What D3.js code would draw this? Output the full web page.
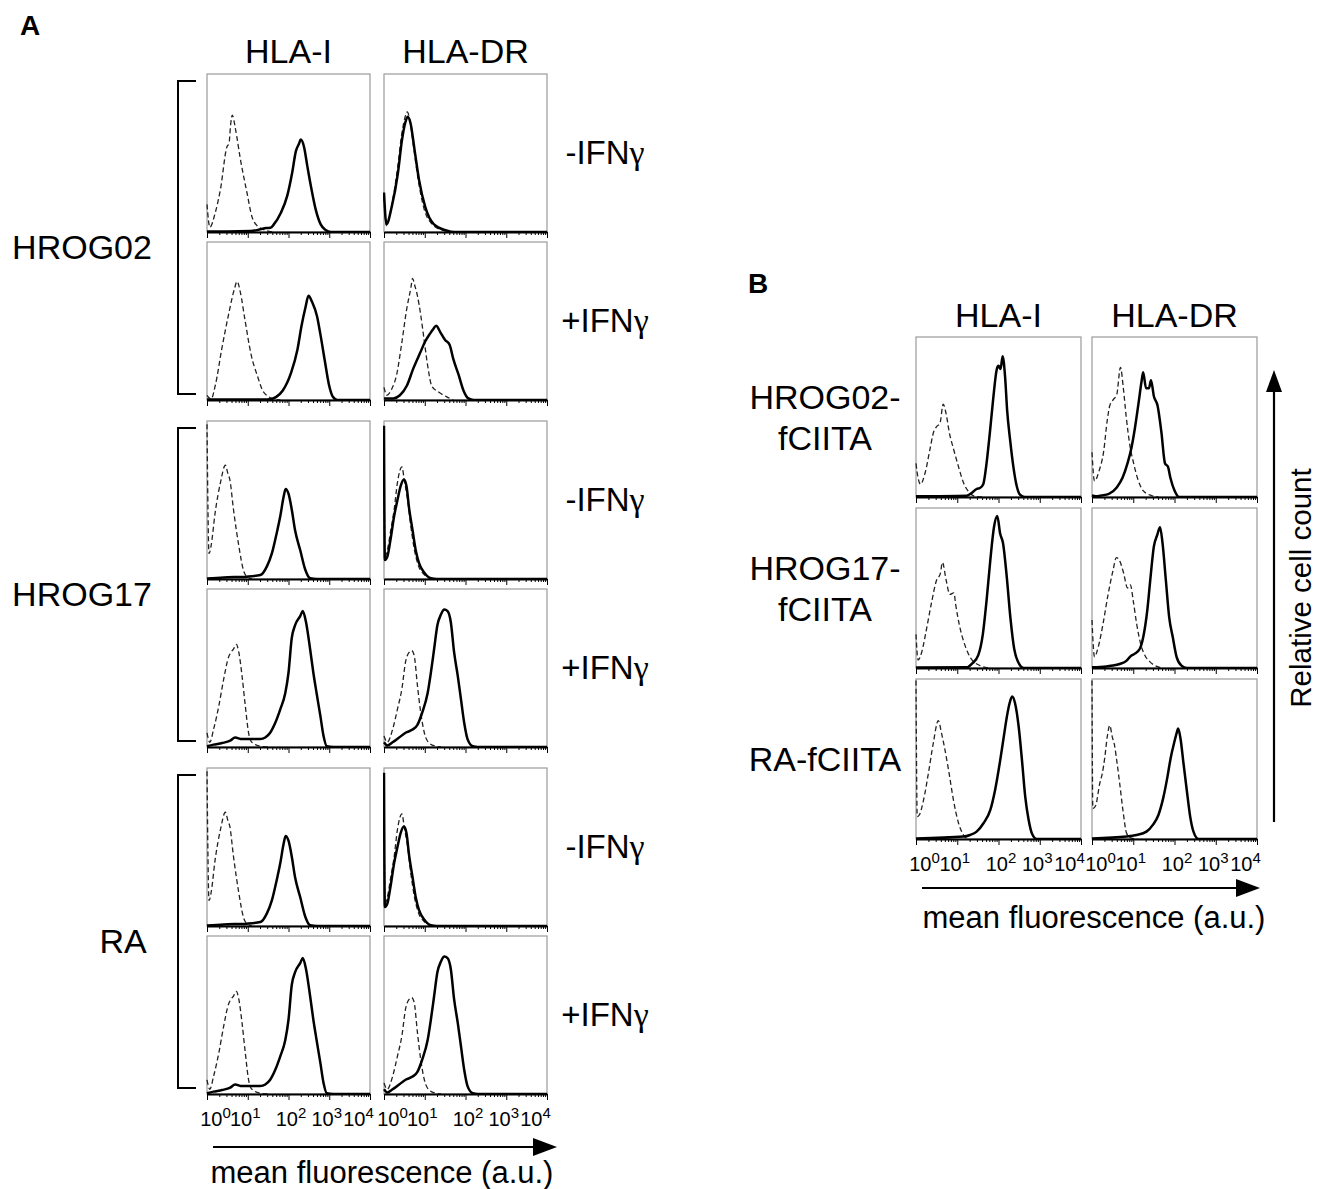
<!DOCTYPE html>
<html>
<head>
<meta charset="utf-8">
<script src="https://cdn.jsdelivr.net/npm/d3@7"></script>
<style>
  body { margin: 0; background: #fff; }
  svg { display: block; font-family: "Liberation Sans", Arial, Helvetica, sans-serif; }
</style>
</head>
<body>
<svg id="fig" width="1319" height="1189"></svg>
<script>
// ---- labels ----
const markers = ["HLA-I", "HLA-DR"];
const groupsA = ["HROG02", "HROG17", "RA"];
const treatments = ["-IFN", "+IFN"];   // followed by a gamma
const rowsB = [["HROG02-", "fCIITA"], ["HROG17-", "fCIITA"], ["RA-fCIITA"]];
const decades = [0, 1, 2, 3, 4];
const xTitle = "mean fluorescence (a.u.)";
const yTitle = "Relative cell count";

// ---- histograms: [log10 fluorescence, % of panel height] ----
// panel A, HROG02
const hrog02MinusHlaICtrl = [[0,17.5],[0.07,3],[0.2,12],[0.33,27],[0.49,54],[0.54,56],[0.58,68],[0.62,74],[0.7,65],[0.82,46],[0.98,25],[1.1,10],[1.23,4],[1.45,1],[1.6,0]];
const hrog02MinusHlaI = [[0,0.3],[0.5,0.3],[1.07,0.6],[1.31,1.7],[1.45,2.5],[1.56,2.7],[1.64,4.8],[1.81,12],[1.97,23],[2.09,37.5],[2.18,51],[2.26,56],[2.3,58.5],[2.38,54],[2.46,42],[2.55,29],[2.67,14],[2.79,4.8],[2.91,1.3],[3.04,0],[4,0]];
const hrog02MinusHlaDRCtrl = [[0,22],[0.06,4],[0.19,17],[0.33,40],[0.43,61],[0.51,72],[0.57,76],[0.64,70],[0.73,53],[0.84,33],[0.98,15],[1.18,5],[1.45,1],[1.65,0]];
const hrog02MinusHlaDR = [[0,25],[0.06,5],[0.19,16],[0.34,37],[0.44,58],[0.52,69],[0.58,73],[0.65,69],[0.75,52],[0.86,33],[1.01,16],[1.22,5],[1.53,1],[1.73,0],[4,0]];
const hrog02PlusHlaICtrl = [[0,3],[0.1,0.6],[0.21,10],[0.36,32],[0.52,53],[0.67,70],[0.74,75],[0.82,68],[0.93,51],[1.08,29],[1.24,15],[1.39,5],[1.65,0.6],[1.8,0]];
const hrog02PlusHlaI = [[0,0.3],[1.4,0.3],[1.55,0.5],[1.7,2],[1.86,6],[2.06,17],[2.22,32],[2.32,47],[2.42,59],[2.49,66],[2.58,62],[2.7,53],[2.78,42],[2.89,25],[2.99,10],[3.09,2],[3.2,0],[4,0]];
const hrog02PlusHlaDRCtrl = [[0,8],[0.07,3],[0.19,7],[0.31,16],[0.43,35],[0.56,58],[0.66,71],[0.7,77],[0.76,72],[0.82,66],[0.9,54],[0.98,39],[1.07,22],[1.17,9],[1.34,5],[1.54,2],[1.7,0]];
const hrog02PlusHlaDR = [[0,1],[0.11,1],[0.23,1],[0.39,3],[0.56,9],[0.72,20],[0.89,30],[1.01,37],[1.13,42],[1.21,45],[1.28,47],[1.38,43],[1.5,38],[1.61,35],[1.7,26],[1.83,16],[1.95,6],[2.07,1],[2.2,0],[4,0]];
// panel A, HROG17
const hrog17MinusHlaICtrl = [[0,98],[0.05,16],[0.1,21],[0.2,42],[0.33,61],[0.45,72],[0.51,67],[0.56,63],[0.65,44],[0.78,21],[0.9,5],[0.98,1.5],[1.1,0]];
const hrog17MinusHlaI = [[0,0.3],[0.41,1],[0.98,1.5],[1.31,2.5],[1.47,8],[1.59,16],[1.71,29],[1.8,40],[1.88,52],[1.93,57],[2,54],[2.08,44],[2.16,31],[2.29,18],[2.41,6],[2.53,0.5],[2.7,0],[4,0]];
const hrog17MinusHlaDRCtrl = [[0,95],[0.02,14],[0.08,18],[0.16,30],[0.25,44],[0.33,61],[0.44,71],[0.5,62],[0.57,52],[0.66,33],[0.75,18],[0.85,8],[0.98,3],[1.15,0]];
const hrog17MinusHlaDR = [[0,97],[0.02,12],[0.08,14],[0.16,25],[0.25,40],[0.33,50],[0.41,59],[0.49,63],[0.55,59],[0.62,44],[0.7,31],[0.78,18],[0.86,10],[0.99,4],[1.15,0.5],[1.3,0],[4,0]];
const hrog17PlusHlaICtrl = [[0,9],[0.07,3],[0.16,11],[0.29,26],[0.41,43],[0.53,57],[0.59,60],[0.65,62],[0.72,65],[0.78,60],[0.86,45],[0.94,26],[1.02,9],[1.1,3],[1.31,0.5],[1.5,0]];
const hrog17PlusHlaI = [[0,0.5],[0.16,1.5],[0.37,2.5],[0.57,4],[0.69,6],[0.86,5],[1.06,5],[1.31,5],[1.43,6],[1.55,9],[1.67,15],[1.8,24],[1.92,34],[2,47],[2.08,69],[2.16,77],[2.29,83],[2.35,86],[2.43,79],[2.53,62],[2.61,47],[2.69,34],[2.78,20],[2.86,7],[2.94,0.5],[3.1,0],[4,0]];
const hrog17PlusHlaDRCtrl = [[0,7],[0.08,3],[0.21,11],[0.33,24],[0.44,37],[0.53,54],[0.62,60],[0.68,61],[0.74,58],[0.82,39],[0.9,22],[0.99,9],[1.09,3],[1.27,0.5],[1.4,0]];
const hrog17PlusHlaDR = [[0,3],[0.08,1],[0.21,3],[0.37,6],[0.53,9],[0.7,11],[0.82,14],[0.94,22],[1.07,34],[1.15,47],[1.23,62],[1.31,77],[1.4,84],[1.48,87],[1.56,86],[1.64,79],[1.72,60],[1.81,45],[1.89,30],[1.97,15],[2.05,5],[2.18,0.5],[2.3,0],[4,0]];
// panel A, RA (the figure shows the same traces as HROG17)
const raMinusHlaICtrl = hrog17MinusHlaICtrl, raMinusHlaI = hrog17MinusHlaI;
const raMinusHlaDRCtrl = hrog17MinusHlaDRCtrl, raMinusHlaDR = hrog17MinusHlaDR;
const raPlusHlaICtrl = hrog17PlusHlaICtrl, raPlusHlaI = hrog17PlusHlaI;
const raPlusHlaDRCtrl = hrog17PlusHlaDRCtrl, raPlusHlaDR = hrog17PlusHlaDR;
// panel B
const b02HlaICtrl = [[0,21],[0.03,15],[0.11,8],[0.22,15],[0.34,30],[0.42,40],[0.5,44],[0.58,46],[0.66,58],[0.73,52],[0.81,40],[0.91,30],[1.03,19],[1.15,9],[1.27,3.5],[1.43,0.4],[1.6,0]];
const b02HlaI = [[0,0.4],[1.23,0.8],[1.35,2.5],[1.47,5],[1.55,5.6],[1.63,8],[1.71,21],[1.79,40],[1.87,61],[1.96,80],[2,82],[2.05,80],[2.1,88],[2.16,75],[2.21,54],[2.28,36],[2.36,19],[2.44,7],[2.52,1.5],[2.64,0],[4,0]];
const b02HlaDRCtrl = [[0,28],[0.06,10],[0.18,17],[0.28,28],[0.37,48],[0.43,57],[0.52,61],[0.6,64],[0.69,81],[0.76,68],[0.83,50],[0.92,32],[1.01,21],[1.1,12],[1.24,4],[1.43,1],[1.61,0]];
const b02HlaDR = [[0,1],[0.09,0.5],[0.23,1],[0.41,2],[0.6,6],[0.74,12],[0.86,21],[0.95,30],[1.04,43],[1.13,59],[1.2,72],[1.24,78],[1.31,68],[1.38,68],[1.43,73],[1.5,63],[1.59,57],[1.68,41],[1.77,21],[1.84,19],[1.9,12],[2,4],[2.11,0],[4,0]];
const b17HlaICtrl = [[0,21],[0.05,5],[0.14,10],[0.23,21],[0.37,40],[0.5,55],[0.59,59],[0.64,66],[0.73,55],[0.82,46],[0.92,47],[0.96,40],[1.05,27],[1.19,14],[1.33,6],[1.51,2],[1.78,0]];
const b17HlaI = [[0,0.3],[1.24,0.5],[1.37,3],[1.51,8],[1.62,21],[1.71,42],[1.8,67],[1.89,88],[1.97,95],[2.04,84],[2.11,78],[2.2,57],[2.29,31],[2.38,12],[2.47,4],[2.61,0],[4,0]];
const b17HlaDRCtrl = [[0,30],[0.06,7],[0.15,13],[0.27,28],[0.39,46],[0.51,61],[0.59,69],[0.67,67],[0.77,59],[0.86,50],[0.93,52],[1,42],[1.08,28],[1.18,15],[1.28,8],[1.4,4],[1.57,1],[1.73,0]];
const b17HlaDR = [[0,0.4],[0.35,1],[0.51,1.5],[0.67,2.5],[0.84,4.6],[0.92,7],[1.04,9],[1.16,12],[1.24,19],[1.34,36],[1.42,57],[1.5,76],[1.58,83],[1.65,88],[1.71,78],[1.79,55],[1.87,32],[1.96,19],[2.05,7],[2.17,1.5],[2.3,0],[4,0]];
const bRaHlaICtrl = [[0,99],[0.03,14],[0.08,15],[0.18,24],[0.3,41],[0.42,60],[0.54,74],[0.62,66],[0.7,56],[0.79,43],[0.91,24],[1.03,10],[1.15,2.5],[1.27,0]];
const bRaHlaI = [[0,0.3],[1.15,1.5],[1.31,2.5],[1.47,4.6],[1.64,10],[1.8,18],[1.92,31],[2.04,49],[2.14,66],[2.2,76],[2.27,85],[2.33,89],[2.4,85],[2.49,70],[2.57,49],[2.65,26],[2.73,12],[2.81,3.5],[2.93,0],[4,0]];
const bRaHlaDRCtrl = [[0,99],[0.02,19],[0.09,21],[0.19,35],[0.25,41],[0.31,51],[0.37,64],[0.43,71],[0.49,64],[0.55,58],[0.61,47],[0.67,35],[0.75,18],[0.84,3.5],[0.96,0.5],[1.1,0]];
const bRaHlaDR = [[0,0.3],[0.84,1.5],[1.08,2.5],[1.32,4.6],[1.48,9],[1.61,15],[1.73,26],[1.83,39],[1.91,51],[1.99,60],[2.05,66],[2.09,69],[2.15,62],[2.21,49],[2.3,30],[2.38,14],[2.46,4.6],[2.58,0],[4,0]];

// rows of [ctrl, stain] per column
const panelA = [
  [[hrog02MinusHlaICtrl, hrog02MinusHlaI], [hrog02MinusHlaDRCtrl, hrog02MinusHlaDR]],
  [[hrog02PlusHlaICtrl, hrog02PlusHlaI], [hrog02PlusHlaDRCtrl, hrog02PlusHlaDR]],
  [[hrog17MinusHlaICtrl, hrog17MinusHlaI], [hrog17MinusHlaDRCtrl, hrog17MinusHlaDR]],
  [[hrog17PlusHlaICtrl, hrog17PlusHlaI], [hrog17PlusHlaDRCtrl, hrog17PlusHlaDR]],
  [[raMinusHlaICtrl, raMinusHlaI], [raMinusHlaDRCtrl, raMinusHlaDR]],
  [[raPlusHlaICtrl, raPlusHlaI], [raPlusHlaDRCtrl, raPlusHlaDR]],
];
const panelB = [
  [[b02HlaICtrl, b02HlaI], [b02HlaDRCtrl, b02HlaDR]],
  [[b17HlaICtrl, b17HlaI], [b17HlaDRCtrl, b17HlaDR]],
  [[bRaHlaICtrl, bRaHlaI], [bRaHlaDRCtrl, bRaHlaDR]],
];

const svg = d3.select("#fig");
const FONT = '"Liberation Sans", Arial, Helvetica, sans-serif';
// tick labels sit a little inward at the ends, as in the figure
const tickLabelShift = [8, -3, 2, -3, -12];

function label(x, y, str, size, opts = {}) {
  return svg.append("text")
    .attr("x", x).attr("y", y)
    .attr("font-size", size)
    .attr("font-weight", opts.bold ? "bold" : null)
    .attr("text-anchor", opts.anchor || "middle")
    .attr("dominant-baseline", opts.baseline || null)
    .attr("fill", "#000")
    .text(str);
}

function arrow(x1, y1, x2, y2, headLen, headHalf) {
  const a = Math.atan2(y2 - y1, x2 - x1);
  const bx = x2 - headLen * Math.cos(a), by = y2 - headLen * Math.sin(a);
  svg.append("line").attr("x1", x1).attr("y1", y1).attr("x2", bx).attr("y2", by)
    .attr("stroke", "#000").attr("stroke-width", 2.2);
  const px = -Math.sin(a) * headHalf, py = Math.cos(a) * headHalf;
  svg.append("path")
    .attr("d", `M${x2},${y2}L${bx + px},${by + py}L${bx - px},${by - py}Z`)
    .attr("fill", "#000");
}

let clipId = 0;
function drawPanel(px, py, w, h, ctrl, stain, withLabels) {
  const g = svg.append("g").attr("transform", `translate(${px},${py})`);
  const xs = d3.scaleLog().domain([1, 1e4]).range([0, w]);
  const ys = d3.scaleLinear().domain([0, 100]).range([h, 0]);
  const id = "clip" + (clipId++);
  g.append("clipPath").attr("id", id).append("rect")
    .attr("x", -1).attr("y", 0).attr("width", w + 1).attr("height", h);

  g.append("rect").attr("x", 0).attr("y", 0).attr("width", w).attr("height", h)
    .attr("fill", "none").attr("stroke", "#9a9a9a").attr("stroke-width", 1.2);

  const line = d3.line()
    .x(d => xs(Math.pow(10, d[0])))
    .y(d => ys(d[1]))
    .curve(d3.curveMonotoneX);

  const plot = g.append("g").attr("clip-path", `url(#${id})`);
  plot.append("path").attr("d", line(ctrl))
    .attr("fill", "none").attr("stroke", "#222").attr("stroke-width", 1.3)
    .attr("stroke-dasharray", "5,3");
  plot.append("path").attr("d", line(stain))
    .attr("fill", "none").attr("stroke", "#000").attr("stroke-width", 2.5)
    .attr("stroke-linejoin", "round");

  const isMajor = d => Math.abs(Math.log10(d) - Math.round(Math.log10(d))) < 1e-9;
  const ag = g.append("g").attr("transform", `translate(0,${h})`)
    .call(d3.axisBottom(xs).tickValues(xs.ticks()).tickSize(3).tickSizeOuter(0).tickFormat(""));
  ag.select(".domain").attr("stroke", "#000").attr("stroke-width", 1.8);
  ag.selectAll(".tick line").attr("stroke", "#000").attr("stroke-width", 1)
    .attr("y2", d => isMajor(d) ? 6 : 3);

  if (withLabels) {
    ag.selectAll(".tick").filter(isMajor).each(function (d) {
      const k = Math.round(Math.log10(d));
      const t = d3.select(this).append("text")
        .attr("x", tickLabelShift[k]).attr("y", 32).attr("fill", "#000")
        .attr("font-family", FONT).attr("font-size", 20)
        .attr("text-anchor", "middle");
      t.append("tspan").text("10");
      t.append("tspan").attr("dy", -8).attr("font-size", 15).text(decades[k]);
    });
  }
}

// ================= Panel A =================
const aCols = [207, 384], aW = 163, aH = 158;
const aTops = [74, 242, 421, 589, 768, 936];

label(20, 35, "A", 28, { bold: true, anchor: "start" });
markers.forEach((m, j) => label(aCols[j] + aW / 2, 63, m, 34));

panelA.forEach((row, i) => {
  row.forEach((cell, j) => {
    drawPanel(aCols[j], aTops[i], aW, aH, cell[0], cell[1], i === panelA.length - 1);
  });
  const t = label(605, aTops[i] + aH / 2 + 11, treatments[i % 2], 33);
  t.append("tspan").attr("font-family", '"Liberation Serif", "DejaVu Serif", serif')
    .attr("font-size", 34).text("\u03b3");
});

const labelX = [82, 82, 123];
groupsA.forEach((name, k) => {
  const top = aTops[2 * k] + 7, bot = aTops[2 * k + 1] + aH - 6;
  svg.append("path")
    .attr("d", `M196,${top}H178V${bot}H196`)
    .attr("fill", "none").attr("stroke", "#000").attr("stroke-width", 2);
  label(labelX[k], (aTops[2 * k] + aTops[2 * k + 1] + aH) / 2 + 22, name, 34);
});

arrow(213, 1147, 557, 1147, 24, 9);
label(382, 1183, xTitle, 31);

// ================= Panel B =================
const bCols = [916, 1092], bW = 165, bH = 160;
const bTops = [337, 508, 679];

label(748, 293, "B", 28, { bold: true, anchor: "start" });
markers.forEach((m, j) => label(bCols[j] + bW / 2, 327, m, 34));

panelB.forEach((row, i) => {
  row.forEach((cell, j) => {
    drawPanel(bCols[j], bTops[i], bW, bH, cell[0], cell[1], i === panelB.length - 1);
  });
  const lines = rowsB[i];
  const mid = bTops[i] + bH / 2;
  const y0 = lines.length === 2 ? mid - 8 : mid + 12;
  lines.forEach((s, k) => label(825, y0 + k * 41, s, 34));
});

arrow(922, 888, 1260, 888, 24, 9);
label(1094, 928, xTitle, 31);

arrow(1274, 822, 1274, 370, 22, 8);
svg.append("text")
  .attr("transform", "translate(1311,588) rotate(-90)")
  .attr("text-anchor", "middle").attr("font-size", 29.5).attr("fill", "#000")
  .text(yTitle);
</script>
</body>
</html>
